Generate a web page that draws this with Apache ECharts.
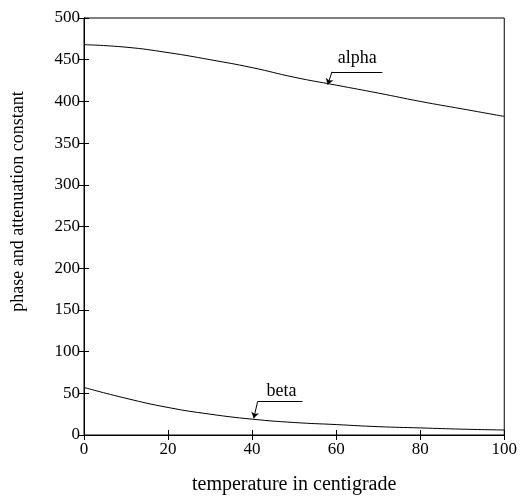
<!DOCTYPE html>
<html>
<head>
<meta charset="utf-8">
<script src="https://cdn.jsdelivr.net/npm/echarts@6/dist/echarts.min.js"></script>
<style>
    html, body { margin: 0; padding: 0; background: #fff; }
    #main { width: 520px; height: 500px; }
</style>
</head>
<body>
<div id="main"></div>
<script>
// temperature (x)
var temps = [0, 10, 20, 30, 40, 50, 60, 70, 80, 90, 100];
// alpha curve
var alpha = [468, 465, 458.5, 450, 440.5, 429, 419.5, 410, 400, 391, 382];
// beta curve
var beta = [57, 44, 33, 25, 19, 15, 12.5, 10, 8.5, 7, 6];

(function() {
    var font = '"Liberation Serif", "DejaVu Serif", serif';

    function pairs(ys) {
        return temps.map(function(t, i) { return [t, ys[i]]; });
    }

    // 标注: 下划线 + 指向曲线的箭头
    function callout(under, tip) {
        return {
            silent: true,
            symbol: ['none', 'none'],
            lineStyle: { color: '#000', width: 1, type: 'solid' },
            label: { show: false },
            data: [
                [{ coord: under[0] }, { coord: under[1] }],
                [{ coord: under[0], symbol: 'none' }, { coord: tip, symbol: 'arrow', symbolSize: 6 }]
            ]
        };
    }

    function note(text, pos) {
        return {
            silent: true,
            symbol: 'rect',
            symbolSize: 0,
            label: { show: true, color: '#000', fontFamily: font, fontSize: 18, position: 'inside',
                formatter: text },
            data: [{ coord: pos }]
        };
    }

    var tick = { show: true, inside: true, length: 5, lineStyle: { color: '#000' } };
    var line = { show: true, lineStyle: { color: '#000' } };

    var option = {
        backgroundColor: '#fff',
        animation: false,
        grid: {
            left: 84,
            right: 15,
            top: 18,
            bottom: 64,
            show: true,
            borderColor: '#000',
            borderWidth: 1
        },
        xAxis: [{
            type: 'value',
            min: 0,
            max: 100,
            interval: 20,
            name: 'temperature in centigrade',
            nameLocation: 'middle',
            nameGap: 40,
            nameTextStyle: { color: '#000', fontFamily: font, fontSize: 20 },
            axisLine: line,
            axisTick: tick,
            axisLabel: { color: '#000', fontFamily: font, fontSize: 17, margin: 6 },
            splitLine: { show: false }
        }, {
            type: 'value',
            position: 'top',
            min: 0,
            max: 100,
            interval: 20,
            axisLine: line,
            axisTick: tick,
            axisLabel: { show: false },
            splitLine: { show: false }
        }],
        yAxis: [{
            type: 'value',
            min: 0,
            max: 500,
            interval: 50,
            name: 'phase and attenuation constant',
            nameLocation: 'middle',
            nameGap: 57,
            nameTextStyle: { color: '#000', fontFamily: font, fontSize: 18, padding: [0, 0, 0, 50] },
            axisLine: line,
            axisTick: tick,
            axisLabel: { color: '#000', fontFamily: font, fontSize: 17, margin: 4 },
            splitLine: { show: false }
        }, {
            type: 'value',
            position: 'right',
            min: 0,
            max: 500,
            interval: 50,
            axisLine: line,
            axisTick: tick,
            axisLabel: { show: false },
            splitLine: { show: false }
        }],
        series: [{
            name: 'alpha',
            type: 'line',
            data: pairs(alpha),
            smooth: true,
            showSymbol: false,
            lineStyle: { color: '#000', width: 1 },
            markLine: callout([[59, 435.5], [71, 435.5]], [58, 420]),
            markPoint: note('alpha', [65, 452])
        }, {
            name: 'beta',
            type: 'line',
            data: pairs(beta),
            smooth: true,
            showSymbol: false,
            lineStyle: { color: '#000', width: 1 },
            markLine: callout([[41.3, 40], [52, 40]], [40.4, 20]),
            markPoint: note('beta', [47, 53])
        }]
    };
    var myChart = echarts.init(document.getElementById('main'));
    myChart.setOption(option);
})();
</script>
</body>
</html>
